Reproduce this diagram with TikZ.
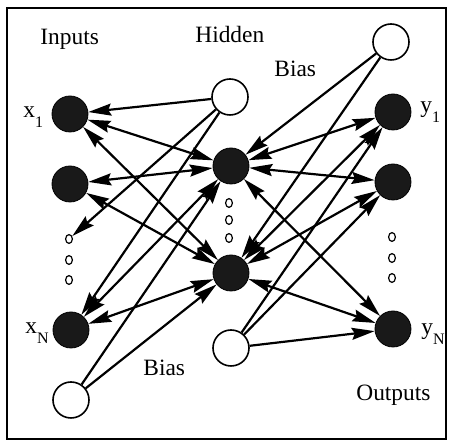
\documentclass[tikz,border=0pt]{standalone}
\usepackage{fontspec}
\setmainfont{Liberation Serif}
\usepackage{tikz}
\usetikzlibrary{arrows.meta,shapes.geometric}
\newcommand{\sublab}[2]{#1\raisebox{-5pt}{\fontsize{8}{9}\selectfont #2}}
\tikzset{
  unit/.style={circle,draw=black,fill=black!90,minimum size=18pt,inner sep=0pt},
  bias/.style={circle,draw,line width=0.8pt,fill=white,minimum size=18pt,inner sep=0pt},
  dot/.style={ellipse,draw,line width=0.6pt,minimum width=3.4pt,minimum height=4.4pt,inner sep=0pt},
  txt/.style={anchor=base west,inner sep=0pt,font=\fontsize{11.7}{13}\selectfont},
  arr/.style={-{Stealth[length=11.5pt,width=6pt,inset=1.5pt]},line width=1.1pt},
  both/.style={{Stealth[length=11.5pt,width=6pt,inset=1.5pt]}-{Stealth[length=11.5pt,width=6pt,inset=1.5pt]},line width=1.1pt},
}

\begin{document}
\begin{tikzpicture}[x=0.5pt,y=-0.5pt]
\useasboundingbox (0,0) rectangle (452,442);
\draw[line width=1pt] (7,8) rectangle (446,439);

% input layer
\node[unit] (x1) at (70,114) {};
\node[unit] (x2) at (70,184) {};
\node[dot] (xd) at (69,239) {};
\node[dot] (xd2) at (69,260) {};
\node[dot] (xd3) at (69,280) {};
\node[unit] (xN) at (71,330) {};
% hidden layer
\node[unit] (h1) at (231,166) {};
\node[dot] (hd) at (229,203) {};
\node[dot] (hd2) at (229,220) {};
\node[dot] (hd3) at (229,238) {};
\node[unit] (hN) at (231,273) {};
% output layer
\node[unit] (y1) at (393,112) {};
\node[unit] (y2) at (393,182) {};
\node[dot] (yd) at (392,237) {};
\node[dot] (yd2) at (392,258) {};
\node[dot] (yd3) at (392,278) {};
\node[unit] (yN) at (393,329) {};
% biases
\node[bias] (binp) at (230,97) {};
\node[bias] (bhlo) at (71,400) {};
\node[bias] (bhup) at (391,42) {};
\node[bias] (bout) at (231,348) {};

% labels
\node[txt] (tin) at (40,45) {Inputs};
\node[txt] (thid) at (195,43) {Hidden};
\node[txt] (tbup) at (274,77) {Bias};
\node[txt] (tblo) at (143,376) {Bias};
\node[txt] (tout) at (356,401) {Outputs};
\node[txt] (lx1) at (23,118) {\sublab{x}{1}};
\node[txt] (lxN) at (25,334) {\sublab{x}{N}};
\node[txt] (ly1) at (420,113) {\sublab{y}{1}};
\node[txt] (lyN) at (421,335) {\sublab{y}{N}};

% bias connections
\draw[arr] (binp) -- (x1);
\draw[arr] (binp) -- (xd);
\draw[arr] (binp) -- (xN);
\draw[arr] (bhlo) -- (h1);
\draw[arr] (bhlo) -- (hN);
\draw[arr] (bhup) -- (h1);
\draw[arr] (bhup) -- (hN);
\draw[arr] (bout) -- (y1);
\draw[arr] (bout) -- (y2);
\draw[arr] (bout) -- (yN);

% inputs <-> hidden
\draw[both] (x1) -- (h1);
\draw[both] (x1) -- (hN);
\draw[both] (x2) -- (h1);
\draw[both] (x2) -- (hN);
\draw[both] (xN) -- (h1);
\draw[both] (xN) -- (hN);
% hidden <-> outputs
\draw[both] (h1) -- (y1);
\draw[both] (h1) -- (y2);
\draw[both] (h1) -- (yN);
\draw[both] (hN) -- (y1);
\draw[both] (hN) -- (y2);
\draw[both] (hN) -- (yN);
\end{tikzpicture}
\end{document}
